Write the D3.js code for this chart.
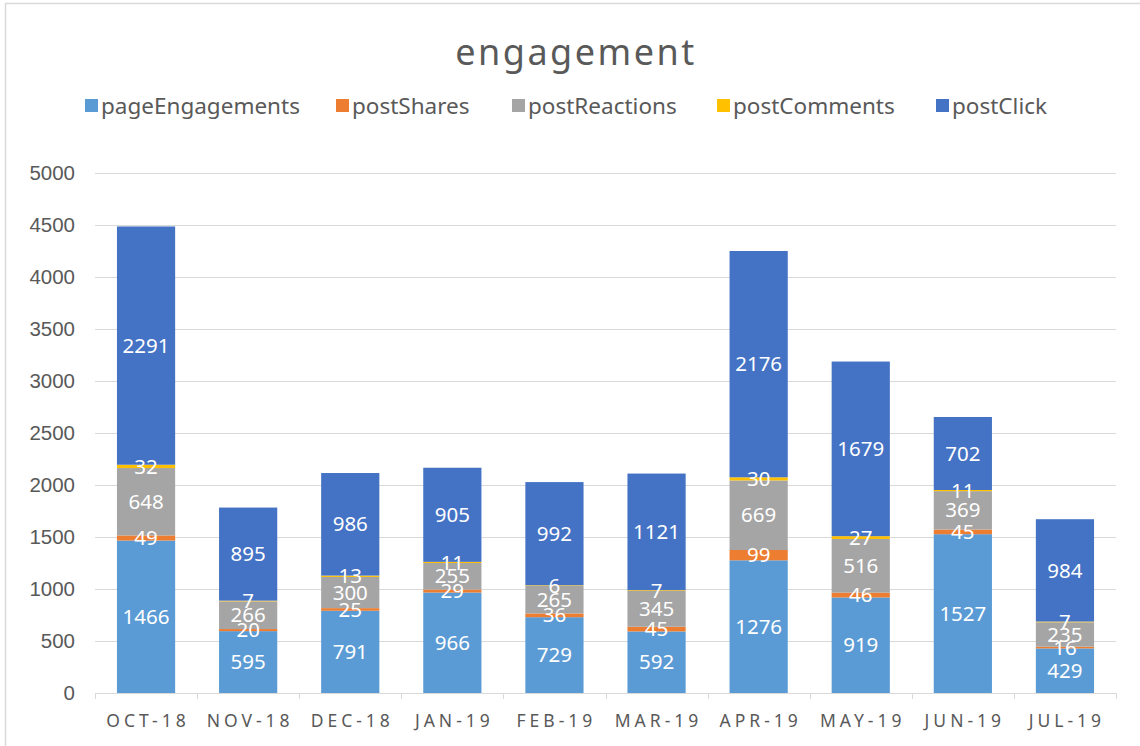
<!DOCTYPE html>
<html>
<head>
<meta charset="utf-8">
<script src="https://cdn.jsdelivr.net/npm/d3@7"></script>
<style>
  body { margin: 0; background: #fff; }
  svg { font-family: "Noto Sans", "Open Sans", sans-serif; }
</style>
</head>
<body>
<div id="visualization"></div>
<script>
// Podatki
const months = ["OCT-18", "NOV-18", "DEC-18", "JAN-19", "FEB-19", "MAR-19", "APR-19", "MAY-19", "JUN-19", "JUL-19"];
const seriesNames = ["pageEngagements", "postShares", "postReactions", "postComments", "postClick"];
const pageEngagements = [1466, 595, 791, 966, 729, 592, 1276, 919, 1527, 429];
const postShares = [49, 20, 25, 29, 36, 45, 99, 46, 45, 16];
const postReactions = [648, 266, 300, 255, 265, 345, 669, 516, 369, 235];
const postComments = [32, 7, 13, 11, 6, 7, 30, 27, 11, 7];
const postClick = [2291, 895, 986, 905, 992, 1121, 2176, 1679, 702, 984];
const yTicks = [0, 500, 1000, 1500, 2000, 2500, 3000, 3500, 4000, 4500, 5000];

const colors = ["#5B9BD5", "#ED7D31", "#A5A5A5", "#FFC000", "#4472C4"];

const width = 1140;
const height = 746;
const margin = { top: 173, right: 24, bottom: 53, left: 95 };

// Tabela za stack
const table = months.map((m, i) => ({
    month: m,
    pageEngagements: pageEngagements[i],
    postShares: postShares[i],
    postReactions: postReactions[i],
    postComments: postComments[i],
    postClick: postClick[i]
}));
const stacked = d3.stack().keys(seriesNames)(table);

const svg = d3.select("#visualization")
    .append("svg")
    .attr("width", width)
    .attr("height", height);

// okvir
svg.append("rect")
    .attr("x", 5.5).attr("y", 3.5)
    .attr("width", width + 10).attr("height", height + 10)
    .attr("fill", "none")
    .attr("stroke", "#d9d9d9")
    .attr("stroke-width", 1.5);

const xScale = d3.scaleBand()
    .domain(months)
    .range([margin.left, width - margin.right])
    .paddingInner(0.43)
    .paddingOuter(0.215);

const yScale = d3.scaleLinear()
    .domain([0, 5000])
    .range([height - margin.bottom, margin.top]);

// Mreža
svg.append("g")
    .selectAll("line")
    .data(yTicks)
    .enter()
    .append("line")
    .attr("x1", margin.left)
    .attr("x2", width - margin.right)
    .attr("y1", d => Math.round(yScale(d)) + 0.5)
    .attr("y2", d => Math.round(yScale(d)) + 0.5)
    .attr("stroke", "#d9d9d9")
    .attr("stroke-width", 1);

// Os Y
const yAxis = svg.append("g")
    .attr("transform", `translate(${margin.left - 20},0)`)
    .call(d3.axisLeft(yScale).tickValues(yTicks).tickFormat(d3.format("d")).tickSize(0).tickPadding(0));
yAxis.select(".domain").remove();
yAxis.selectAll("text")
    .attr("fill", "#595959")
    .style("font-size", "20.5px");

// Os X
const xAxis = svg.append("g")
    .attr("transform", `translate(0,${height - margin.bottom})`);
xAxis.append("line")
    .attr("x1", margin.left).attr("x2", width - margin.right)
    .attr("y1", 0.5).attr("y2", 0.5)
    .attr("stroke", "#d9d9d9");
const step = xScale.step();
xAxis.selectAll(".tick-mark")
    .data(d3.range(months.length + 1))
    .enter()
    .append("line")
    .attr("x1", i => Math.round(margin.left + i * step) + 0.5)
    .attr("x2", i => Math.round(margin.left + i * step) + 0.5)
    .attr("y1", 0).attr("y2", 6)
    .attr("stroke", "#d9d9d9");
xAxis.selectAll(".xlabel")
    .data(months)
    .enter()
    .append("text")
    .attr("x", d => xScale(d) + xScale.bandwidth() / 2 + 2)
    .attr("y", 34)
    .attr("text-anchor", "middle")
    .attr("fill", "#595959")
    .style("font-size", "17.5px")
    .style("letter-spacing", "4px")
    .text(d => d);

// Stolpci
const layers = svg.append("g")
    .selectAll("g")
    .data(stacked)
    .enter()
    .append("g")
    .attr("fill", (d, i) => colors[i]);

layers.selectAll("rect")
    .data(d => d)
    .enter()
    .append("rect")
    .attr("x", d => xScale(d.data.month))
    .attr("width", xScale.bandwidth())
    .attr("y", d => yScale(d[1]))
    .attr("height", d => yScale(d[0]) - yScale(d[1]));

// Vrednosti
const labels = svg.append("g");
stacked.forEach(layer => {
    labels.selectAll(null)
        .data(layer)
        .enter()
        .append("text")
        .attr("x", d => xScale(d.data.month) + xScale.bandwidth() / 2)
        .attr("y", d => yScale((d[0] + d[1]) / 2))
        .attr("dy", "0.35em")
        .attr("text-anchor", "middle")
        .attr("fill", "#fff")
        .style("font-size", "20.5px")
        .text(d => d[1] - d[0]);
});

// Naslov
svg.append("text")
    .attr("x", 576)
    .attr("y", 65)
    .attr("text-anchor", "middle")
    .attr("fill", "#595959")
    .style("font-size", "36px")
    .style("letter-spacing", "2.5px")
    .text("engagement");

// Legenda
const legendX = [85, 336, 512, 717, 936];
const legend = svg.append("g")
    .selectAll("g")
    .data(seriesNames)
    .enter()
    .append("g")
    .attr("transform", (d, i) => `translate(${legendX[i]},99)`);
legend.append("rect")
    .attr("width", 13).attr("height", 13)
    .attr("fill", (d, i) => colors[i]);
legend.append("text")
    .attr("x", 16)
    .attr("y", 7)
    .attr("dy", "0.35em")
    .attr("fill", "#595959")
    .style("font-size", "22.5px")
    .text(d => d);
</script>
</body>
</html>
